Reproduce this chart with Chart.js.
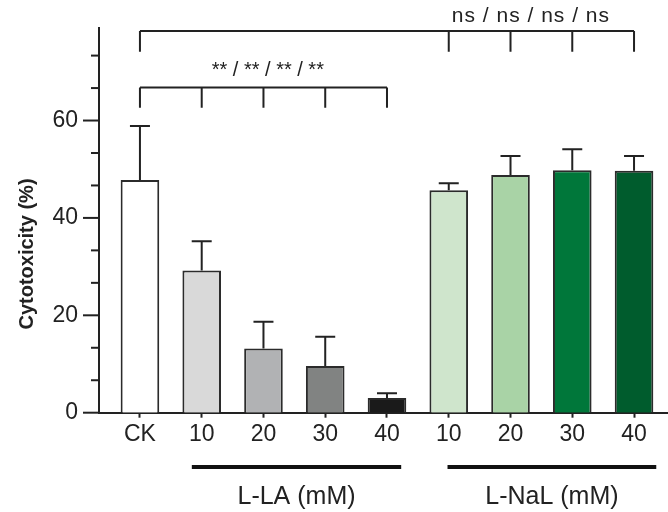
<!DOCTYPE html>
<html lang="en">
<head>
    <meta charset="UTF-8">
    <title>Cytotoxicity</title>
    <script src="https://cdn.jsdelivr.net/npm/chart.js@4.4.3/dist/chart.umd.min.js"></script>
    <style>
        body { margin: 0; background: #fff; }
        canvas { display: block; }
    </style>
</head>
<body>
    <canvas id="chart" width="668" height="512"></canvas>
    <script>
        // data
        const categories = ['CK', '10', '20', '30', '40', '10', '20', '30', '40'];
        const means = [47.8, 29.2, 13.2, 9.6, 3.0, 45.7, 48.8, 49.8, 49.7];
        const errors = [11.1, 6.0, 5.5, 6.0, 1.0, 1.4, 3.9, 4.3, 3.0];
        const barColors = ['#ffffff', '#d9d9d9', '#b1b2b4', '#818382', '#1a1a1a',
                           '#cfe5cc', '#a9d3a6', '#00773a', '#005c2d'];
        const yLabelTicks = [0, 20, 40, 60];
        const groupLabels = ['L-LA (mM)', 'L-NaL (mM)'];
        const groupRanges = [[0.84, 4.23], [4.98, 8.36]];
        // significance brackets: level, drop end, indices, text and its place
        const bracketTop = { y: 78.4, drop: 74.1, idx: [0, 5, 6, 7, 8], text: 'ns / ns / ns / ns', tx: 6.33, ty: 81.5 };
        const bracketLow = { y: 66.8, drop: 62.6, idx: [0, 1, 2, 3, 4], text: '** / ** / ** / **', tx: 2.07, ty: 70.3 };

        const ink = '#222';
        const font = 'Liberation Sans, Arial, sans-serif';

        const extrasPlugin = {
            id: 'extras',
            afterDraw(chart) {
                const ctx = chart.ctx;
                const xs = chart.scales.x, ys = chart.scales.y;
                const area = chart.chartArea;
                ctx.save();
                ctx.strokeStyle = ink;
                ctx.fillStyle = ink;

                // error bars (upper only)
                ctx.lineWidth = 2;
                means.forEach((m, i) => {
                    const x = xs.getPixelForValue(i);
                    const y0 = ys.getPixelForValue(m);
                    const y1 = ys.getPixelForValue(m + errors[i]);
                    ctx.beginPath();
                    ctx.moveTo(x, y0);
                    ctx.lineTo(x, y1);
                    ctx.moveTo(x - 10, y1);
                    ctx.lineTo(x + 10, y1);
                    ctx.stroke();
                });

                // y ticks, major every 20, minor every 20/3
                ys.ticks.forEach((t, i) => {
                    const y = ys.getPixelForValue(t.value);
                    const len = i % 3 === 0 ? 16 : 8;
                    ctx.beginPath();
                    ctx.moveTo(area.left, y);
                    ctx.lineTo(area.left - len, y);
                    ctx.stroke();
                });

                // brackets
                [bracketTop, bracketLow].forEach((b, k) => {
                    const yb = ys.getPixelForValue(b.y);
                    const yd = ys.getPixelForValue(b.drop);
                    const first = xs.getPixelForValue(b.idx[0]);
                    const last = xs.getPixelForValue(b.idx[b.idx.length - 1]);
                    ctx.beginPath();
                    ctx.moveTo(first, yb);
                    ctx.lineTo(last, yb);
                    b.idx.forEach(i => {
                        const x = xs.getPixelForValue(i);
                        ctx.moveTo(x, yb);
                        ctx.lineTo(x, yd);
                    });
                    ctx.stroke();
                    ctx.font = (k === 0 ? '21px ' : '20px ') + font;
                    ctx.letterSpacing = k === 0 ? '1px' : '0px';
                    ctx.textAlign = 'center';
                    ctx.textBaseline = 'middle';
                    ctx.fillText(b.text, xs.getPixelForValue(b.tx), ys.getPixelForValue(b.ty));
                });
                ctx.letterSpacing = '0px';

                // group lines and labels under the axis
                ctx.lineWidth = 4;
                ctx.strokeStyle = '#111';
                groupRanges.forEach((r, g) => {
                    const x0 = xs.getPixelForValue(r[0]);
                    const x1 = xs.getPixelForValue(r[1]);
                    ctx.beginPath();
                    ctx.moveTo(x0, 467);
                    ctx.lineTo(x1, 467);
                    ctx.stroke();
                    ctx.font = '25px ' + font;
                    ctx.textAlign = 'center';
                    ctx.textBaseline = 'middle';
                    ctx.fillText(groupLabels[g], (x0 + x1) / 2, 497);
                });

                // y axis title
                ctx.translate(27, 254);
                ctx.rotate(-Math.PI / 2);
                ctx.font = 'bold 20px ' + font;
                ctx.textAlign = 'center';
                ctx.textBaseline = 'middle';
                ctx.fillText('Cytotoxicity (%)', 0, 0);
                ctx.restore();
            }
        };

        const ctx = document.getElementById('chart').getContext('2d');
        const myChart = new Chart(ctx, {
            type: 'bar',
            data: {
                datasets: [{
                    data: means.map((m, i) => ({ x: i, y: m })),
                    backgroundColor: barColors,
                    borderColor: '#2b2b2b',
                    borderWidth: 2,
                    categoryPercentage: 1,
                    barPercentage: 0.625,
                }]
            },
            plugins: [extrasPlugin],
            options: {
                animation: false,
                responsive: false,
                layout: { padding: { top: 28, left: 0, right: 0, bottom: 0 } },
                plugins: {
                    legend: { display: false },
                    tooltip: { enabled: false },
                },
                scales: {
                    x: {
                        type: 'linear',
                        offset: false,
                        min: -0.663,
                        max: 8.55,
                        afterBuildTicks: scale => {
                            scale.ticks = categories.map((c, i) => ({ value: i }));
                        },
                        afterFit: scale => { scale.height = 99.3; },
                        ticks: {
                            callback: (v, i) => categories[i],
                            color: ink,
                            padding: 3,
                            maxRotation: 0,
                            font: { family: font, size: 23 },
                        },
                        grid: {
                            offset: false,
                            drawOnChartArea: false,
                            tickLength: 5,
                            tickWidth: 2,
                            tickColor: ink,
                        },
                        border: { color: ink, width: 2 },
                    },
                    y: {
                        min: 0,
                        max: 79,
                        afterBuildTicks: scale => {
                            const t = [];
                            for (let i = 0; i < 12; i++) t.push({ value: i * 20 / 3 });
                            scale.ticks = t;
                        },
                        afterFit: scale => { scale.width = 99; },
                        ticks: {
                            callback: (v, i) => i % 3 === 0 ? String(yLabelTicks[i / 3]) : '',
                            color: ink,
                            padding: 5,
                            font: { family: font, size: 23 },
                        },
                        grid: {
                            display: false,
                            drawTicks: true,
                            tickLength: 16,
                        },
                        border: { color: ink, width: 2 },
                    }
                }
            }
        });
    </script>
</body>
</html>
